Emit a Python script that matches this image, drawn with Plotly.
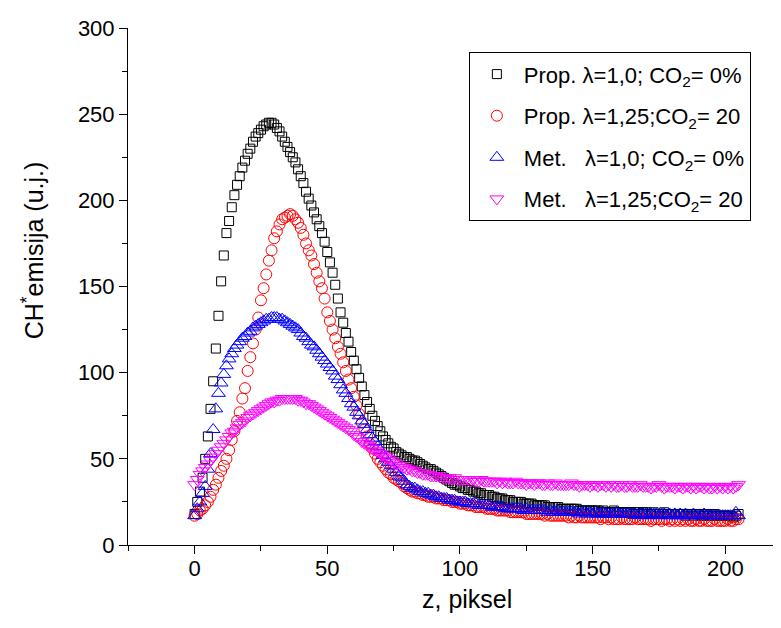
import plotly.graph_objects as go

# CH* emission profiles along the flame axis, z = 0..205 px
prop_10_0 = [18, 25, 31, 39, 50, 63, 79, 95, 114, 133,
             153, 168, 181, 188, 196, 203, 209, 214, 219, 223,
             227, 230, 234, 237, 239, 241, 243, 244, 245, 245,
             244, 242, 240, 237, 234, 231, 228, 225, 222, 218,
             214, 210, 205, 201, 197, 193, 189, 185, 181, 176,
             170, 164, 158, 151, 143, 135, 129, 123, 118, 112,
             107, 102, 97, 92, 87, 83, 79, 75, 72, 69,
             66, 63, 61, 59, 57, 56, 54, 53, 52, 51,
             51, 50, 49, 49, 48, 47, 46, 45, 44, 44,
             43, 42, 41, 40, 39, 38, 37, 36, 35, 35,
             34, 33, 33, 32, 32, 31, 31, 30, 30, 29,
             29, 29, 28, 28, 27, 27, 27, 26, 26, 26,
             25, 25, 25, 25, 24, 24, 24, 24, 23, 23,
             23, 23, 23, 22, 22, 22, 22, 22, 21, 21,
             21, 21, 21, 21, 21, 20, 20, 20, 20, 20,
             20, 20, 20, 19, 20, 19, 19, 19, 20, 19,
             19, 19, 19, 19, 19, 18, 19, 19, 18, 19,
             19, 18, 18, 19, 18, 18, 18, 19, 18, 18,
             18, 18, 18, 18, 18, 17, 18, 18, 17, 18,
             18, 17, 17, 18, 17, 17, 18, 17, 17, 17,
             17, 17, 17, 16, 17, 18]

prop_125_20 = [17, 18, 20, 21, 23, 25, 28, 32, 35, 39,
               43, 46, 50, 55, 61, 66, 72, 77, 85, 91,
               101, 109, 117, 125, 132, 142, 149, 157, 165, 171,
               178, 182, 186, 189, 190, 191, 192, 191, 189, 187,
               184, 180, 175, 171, 168, 163, 158, 153, 149, 143,
               135, 130, 125, 120, 115, 111, 106, 101, 96, 91,
               86, 81, 76, 71, 67, 63, 59, 56, 53, 50,
               48, 46, 44, 42, 41, 39, 38, 37, 36, 34,
               33, 32, 31, 31, 30, 30, 29, 29, 28, 28,
               28, 27, 27, 27, 26, 26, 26, 25, 25, 25,
               24, 24, 24, 23, 23, 23, 22, 22, 22, 22,
               21, 21, 21, 21, 20, 20, 20, 20, 20, 19,
               19, 19, 19, 19, 19, 18, 18, 18, 18, 18,
               18, 18, 17, 18, 17, 17, 17, 17, 17, 17,
               17, 16, 17, 16, 16, 17, 16, 16, 16, 16,
               16, 16, 16, 15, 16, 16, 15, 16, 15, 15,
               15, 16, 15, 15, 15, 15, 16, 15, 15, 15,
               15, 15, 14, 15, 15, 15, 14, 15, 15, 14,
               15, 14, 15, 14, 15, 14, 15, 14, 14, 15,
               14, 14, 15, 14, 14, 14, 15, 14, 14, 14,
               14, 15, 14, 14, 15, 15]

met_10_0 = [17, 21, 25, 30, 34, 44, 53, 67, 79, 88,
            94, 99, 104, 108, 111, 114, 116, 118, 120, 121,
            123, 124, 126, 127, 128, 129, 130, 131, 131, 132,
            132, 132, 131, 131, 130, 129, 128, 127, 126, 125,
            123, 121, 120, 118, 116, 115, 113, 111, 109, 107,
            105, 103, 101, 98, 96, 93, 90, 88, 85, 82,
            80, 77, 75, 72, 70, 67, 64, 62, 60, 57,
            55, 52, 50, 48, 46, 44, 42, 40, 39, 37,
            35, 34, 33, 33, 32, 31, 31, 30, 30, 29,
            29, 28, 28, 27, 27, 27, 26, 26, 26, 25,
            25, 25, 25, 24, 24, 24, 24, 23, 23, 23,
            23, 23, 22, 22, 22, 22, 22, 21, 21, 21,
            21, 21, 21, 21, 20, 21, 20, 20, 20, 20,
            20, 20, 20, 19, 20, 19, 19, 20, 19, 19,
            19, 19, 19, 19, 19, 18, 19, 19, 18, 19,
            18, 19, 18, 18, 19, 18, 18, 18, 18, 19,
            18, 18, 18, 18, 18, 18, 18, 17, 18, 18,
            18, 17, 18, 18, 18, 17, 18, 18, 17, 18,
            17, 18, 17, 18, 17, 18, 17, 17, 18, 17,
            17, 17, 18, 17, 17, 17, 17, 17, 17, 17,
            17, 17, 17, 17, 19, 17]

met_125_20 = [35, 38, 41, 43, 45, 47, 49, 51, 53, 55,
              57, 59, 61, 63, 65, 66, 68, 70, 71, 72,
              74, 75, 76, 77, 78, 79, 80, 81, 82, 83,
              83, 84, 84, 85, 85, 85, 85, 85, 85, 84,
              84, 83, 82, 82, 81, 80, 79, 78, 77, 76,
              75, 74, 73, 72, 71, 70, 69, 68, 67, 66,
              64, 63, 62, 60, 59, 58, 57, 56, 55, 54,
              53, 52, 51, 50, 49, 48, 47, 46, 46, 45,
              44, 44, 43, 43, 42, 42, 41, 41, 41, 40,
              40, 40, 40, 39, 39, 39, 39, 38, 39, 38,
              38, 38, 38, 38, 37, 38, 37, 37, 38, 37,
              37, 37, 37, 37, 36, 37, 36, 37, 36, 36,
              36, 37, 36, 36, 36, 35, 36, 36, 35, 36,
              36, 35, 35, 36, 35, 35, 36, 35, 35, 35,
              35, 35, 36, 35, 35, 34, 35, 35, 35, 34,
              35, 35, 34, 35, 35, 34, 35, 34, 35, 34,
              34, 35, 34, 34, 35, 34, 34, 34, 35, 34,
              34, 34, 33, 34, 34, 35, 34, 33, 34, 34,
              34, 33, 34, 34, 33, 34, 34, 33, 34, 33,
              34, 34, 33, 34, 33, 33, 34, 33, 34, 33,
              34, 33, 34, 33, 34, 35]

names = ["Prop. \u03bb=1,0; CO<sub>2</sub>= 0%",
         "Prop. \u03bb=1,25;CO<sub>2</sub>= 20",
         "Met. \u00a0\u00a0\u03bb=1,0; CO<sub>2</sub>= 0%",
         "Met. \u00a0\u00a0\u03bb=1,25;CO<sub>2</sub>= 20"]

series = [prop_10_0, prop_125_20, met_10_0, met_125_20]
colors = ["#000000", "#ff0000", "#0000ff", "#ff00ff"]
symbols = ["square-open", "circle-open", "triangle-up-open", "triangle-down-open"]
sizes = [9, 11, 12, 12]

fig = go.Figure()
for i, ys in enumerate(series):
    fig.add_trace(go.Scatter(
        x=list(range(len(ys))), y=ys, mode="markers", name=names[i],
        legendgroup=str(i),
        marker=dict(symbol=symbols[i], size=sizes[i], color=colors[i],
                    line=dict(width=1, color=colors[i]))))

axis_common = dict(showgrid=False, zeroline=False, showline=True, linecolor="black",
                   linewidth=1, ticks="outside", ticklen=8, tickwidth=1, tickcolor="black",
                   tickfont=dict(size=22, color="black"), mirror=False,
                   ticklabeloverflow="allow")

fig.update_xaxes(range=[-25.1, 221], tickvals=[0, 50, 100, 150, 200],
                 minor=dict(tickvals=[-25, 25, 75, 125, 175], ticks="outside", ticklen=5,
                            tickcolor="black"),
                 ticklabelstandoff=-4,
                 **axis_common)
fig.update_yaxes(range=[0, 300], dtick=50,
                 minor=dict(dtick=25, ticks="outside", ticklen=5, tickcolor="black"),
                 **axis_common)

# page body has an 8 px margin, so the margins are set 8 px smaller
fig.update_layout(
    width=781, height=628,
    margin=dict(l=120, r=8, t=9, b=91),
    plot_bgcolor="white", paper_bgcolor="white",
    font=dict(family="Liberation Sans, Arial, sans-serif", color="black"),
    showlegend=True,
    legend=dict(x=0.522, y=0.953, xanchor="left", yanchor="top",
                bordercolor="black", borderwidth=1, bgcolor="white",
                font=dict(size=22), tracegroupgap=10, traceorder="grouped",
                entrywidth=262, itemwidth=44),
    annotations=[
        dict(text="CH<sup>*</sup>emisija (u.j.)", xref="paper", yref="paper",
             x=-0.1455, y=0.57, xanchor="center", yanchor="middle",
             textangle=-90, showarrow=False, font=dict(size=25)),
        dict(text="z, piksel", xref="paper", yref="paper",
             x=0.519, y=-0.104, xanchor="center", yanchor="middle",
             showarrow=False, font=dict(size=25)),
    ],
)

fig.write_html("out.html")
